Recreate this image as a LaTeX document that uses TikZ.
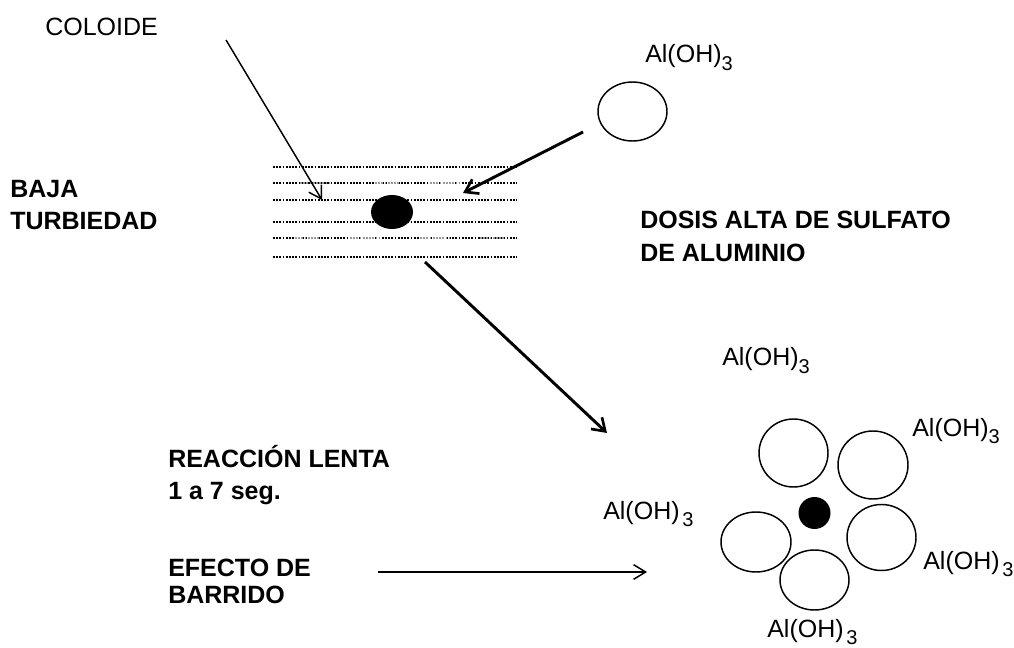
\documentclass[tikz,border=0pt]{standalone}
\usepackage{fontspec}
\setmainfont{Liberation Sans}
\usetikzlibrary{arrows.meta,shapes.geometric}
\newcommand{\aloh}{Al(OH)\raisebox{-0.55ex}{\fontsize{15}{15}\selectfont 3}}
\newcommand{\alohsp}{Al(OH)\kern2pt\raisebox{-0.55ex}{\fontsize{15}{15}\selectfont 3}}
\begin{document}
\begin{tikzpicture}[x=0.75pt,y=-0.75pt,
  lbl/.style={anchor=base west,inner sep=0pt,font=\fontsize{18.75}{22}\selectfont},
  blbl/.style={lbl,font=\fontsize{18.75}{22}\selectfont\bfseries},
  ring/.style={draw,line width=1.1pt},
  thinarrow/.style={draw,line width=1.1pt,-{Straight Barb[length=9pt,width=11pt,line width=1.1pt]}},
  thickarrow/.style={draw,line width=2.2pt,-{Straight Barb[length=9pt,width=12pt,line width=2pt]}},
  dots/.style={line width=1.3pt,dash pattern=on 1.3pt off 1.1pt},
  grdots/.style={dots,draw=black!40}]
\useasboundingbox (0,0) rectangle (1014,648);
% texts
\node[lbl] (coloide) at (45,36) {COLOIDE};
\node[blbl] (baja) at (10,198) {BAJA};
\node[blbl] (turb) at (10,230) {TURBIEDAD};
\node[blbl] (dosis) at (640,229) {DOSIS ALTA DE SULFATO};
\node[blbl] (dealu) at (640,262) {DE ALUMINIO};
\node[blbl] (reac) at (168,468) {REACCIÓN LENTA};
\node[blbl] (seg) at (168,499) {1 a 7 seg.};
\node[blbl] (efecto) at (168,576) {EFECTO DE};
\node[blbl] (barrido) at (168,603) {BARRIDO};
\node[lbl] (al1) at (645,63) {\aloh};
\node[lbl] (al2) at (722,366) {\aloh};
\node[lbl] (al3) at (912,436) {\aloh};
\node[lbl] (al4) at (603,519) {\alohsp};
\node[lbl] (al5) at (923,569) {\alohsp};
\node[lbl] (al6) at (767,637) {\alohsp};
% dotted water lines
\draw[dots] (273,167) -- (517,167);
\draw[dots] (273,183) -- (517,183);
\draw[grdots] (300,183) -- (330,183) (375,183) -- (400,183) (430,183) -- (460,183);
\draw[dots] (273,200) -- (517,200);
\draw[dots] (273,222) -- (517,222);
\draw[dots] (273,238) -- (517,238);
\draw[grdots] (295,238) -- (320,238) (350,238) -- (380,238) (420,238) -- (450,238) (480,238) -- (505,238);
\draw[dots] (273,257) -- (517,257);
% colloid particle
\node[fill=black,ellipse,minimum width=31.5pt,minimum height=25.5pt,inner sep=0pt] (blob) at (392,212) {};
% Al(OH)3 floc
\draw[ring] (632.5,111.5) ellipse [x radius=34.5,y radius=29.5];
\coordinate (c1) at (583,132);
\coordinate (c2) at (463,193);
\coordinate (k1) at (226,40);
\coordinate (k2) at (322,200);
\coordinate (d1) at (425,262);
\coordinate (d2) at (607,433);
\coordinate (e1) at (378,572);
\coordinate (e2) at (647,572);
\draw[thinarrow] (k1) -- (k2);
\draw[thickarrow] (c1) -- (c2);
\draw[thickarrow] (d1) -- (d2);
\draw[thinarrow] (e1) -- (e2);
% cluster
\draw[ring] (793.5,453) ellipse [x radius=34.5,y radius=34];
\draw[ring] (873,465) ellipse [x radius=35,y radius=34];
\draw[ring] (756,542) ellipse [x radius=35,y radius=30];
\draw[ring] (881.5,537.5) ellipse [x radius=34.5,y radius=33];
\draw[ring] (814.5,580) ellipse [x radius=34.5,y radius=30];
\node[circle,fill=black,minimum size=24pt,inner sep=0pt] (dot) at (814.5,513) {};
\end{tikzpicture}
\end{document}
